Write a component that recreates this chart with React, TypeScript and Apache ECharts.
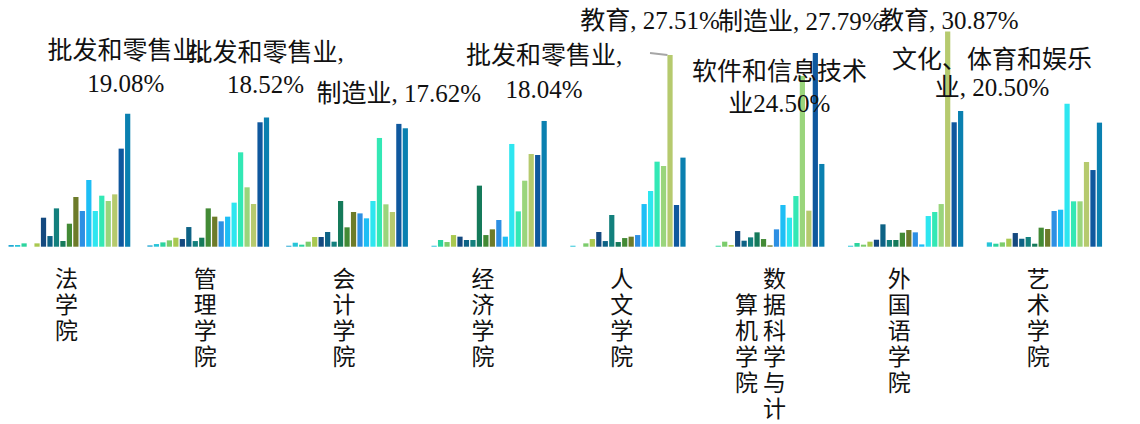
import React, { useEffect, useRef } from 'react';
import * as echarts from 'echarts';

const colleges = ['法学院', '管理学院', '会计学院', '经济学院', '人文学院', '数据科学与计算机学院', '外国语学院', '艺术学院'];

const industries = [
  '采矿业', '农、林、牧、渔业', '电力、热力、燃气及水生产和供应业', '住宿和餐饮业', '国际组织',
  '房地产业', '交通运输、仓储和邮政业', '卫生和社会工作', '金融业', '居民服务、修理和其他服务业',
  '科学研究和技术服务业', '建筑业', '租赁和商务服务业', '文化、体育和娱乐业', '公共管理、社会保障和社会组织',
  '软件和信息技术业', '教育', '制造业', '批发和零售业',
];

const colors = [
  '#23a7d3', '#27c4d8', '#2bd49e', '#7ccc6c', '#a9c850',
  '#14497f', '#0d6285', '#13807d', '#157a5a', '#438a35',
  '#6d7b2a', '#2d8fe3', '#1ebef5', '#2ee6f0', '#33e8b5',
  '#9ad57c', '#b6ca6e', '#0f589e', '#0a80b0',
];

// percentage per industry, in college order
const s01 = [0.24, 0.19, 0.14, 0, 0, 0, 0, 0];
const s02 = [0.24, 0.38, 0.57, 0.14, 0.14, 0, 0.14, 0.62];
const s03 = [0.48, 0.62, 0.29, 0.96, 0, 0.14, 0.53, 0.43];
const s04 = [0, 0.91, 0.72, 0.67, 0.48, 0.72, 0.29, 0.62];
const s05 = [0.48, 1.29, 1.39, 1.67, 1.1, 0.24, 0.72, 1.15];
const s06 = [4.16, 1.1, 1.39, 1.44, 2.11, 2.25, 1.0, 1.96];
const s07 = [1.53, 2.82, 2.11, 0.96, 0.81, 0.86, 3.21, 1.15];
const s08 = [5.5, 0.81, 0.72, 0.96, 4.55, 1.34, 0.96, 1.39];
const s09 = [0.81, 1.29, 6.56, 8.76, 0.67, 2.06, 0.96, 0.43];
const s10 = [3.3, 5.5, 2.78, 1.67, 1.24, 1.1, 2.01, 2.73];
const s11 = [7.13, 4.31, 4.98, 2.49, 1.44, 0.19, 2.39, 2.54];
const s12 = [5.12, 3.64, 4.78, 3.83, 1.67, 2.49, 2.06, 5.12];
const s13 = [9.57, 4.31, 4.07, 1.44, 6.12, 5.98, 0.33, 5.31];
const s14 = [5.12, 6.32, 6.56, 14.74, 7.99, 4.16, 4.4, 20.5];
const s15 = [7.32, 13.54, 15.6, 5.07, 12.2, 7.27, 4.98, 6.51];
const s16 = [6.56, 8.52, 6.08, 9.47, 11.58, 24.5, 6.12, 6.51];
const s17 = [7.51, 6.12, 4.98, 13.3, 27.51, 5.17, 30.87, 12.15];
const s18 = [14.07, 17.85, 17.62, 13.16, 5.98, 27.79, 17.85, 11.0];
const s19 = [19.08, 18.52, 16.99, 18.04, 12.78, 11.87, 19.47, 17.8];

const seriesValues = [s01, s02, s03, s04, s05, s06, s07, s08, s09, s10, s11, s12, s13, s14, s15, s16, s17, s18, s19];

// data labels: which bar, and its text
const labelTexts = [
  { series: 18, college: 0, text: '批发和零售业,\n19.08%' },
  { series: 18, college: 1, text: '批发和零售业,\n18.52%' },
  { series: 17, college: 2, text: '制造业, 17.62%' },
  { series: 18, college: 3, text: '批发和零售业,\n18.04%' },
  { series: 16, college: 4, text: '教育, 27.51%' },
  { series: 17, college: 5, text: '制造业, 27.79%' },
  { series: 15, college: 5, text: '软件和信息技术\n业24.50%' },
  { series: 16, college: 6, text: '教育, 30.87%' },
  { series: 13, college: 7, text: '文化、体育和娱乐\n业, 20.50%' },
];
// label placement (offset from bar top, line height, leader line)
const labelPlacement = [
  { dx: -2, dy: -9, lh: 33, line: false },
  { dx: -1, dy: -12, lh: 32, line: false },
  { dx: 0, dy: -9, lh: 32, line: false },
  { dx: 0, dy: -9, lh: 34, line: false },
  { dx: -20, dy: -13, lh: 32, line: true },
  { dx: -15, dy: -11, lh: 32, line: false },
  { dx: -23, dy: 49, lh: 32, line: false },
  { dx: 1, dy: 10, lh: 32, line: false },
  { dx: -75, dy: 3, lh: 28, line: false },
];

const verticalLabel = (v: string) => {
  if (v === '数据科学与计算机学院') {
    const right = '数据科学与计'.split('');
    const left = '　算机学院　'.split('');
    return right.map((r, i) => `${left[i]} ${r}`).join('\n');
  }
  return v.split('').join('\n');
};

export default function App() {
  const ref = useRef<HTMLDivElement>(null);
  useEffect(() => {
    const chart = echarts.init(ref.current!, undefined, { renderer: 'svg' });
    const series = seriesValues.map((vals, si) => ({
      name: industries[si],
      type: 'bar',
      barGap: '24%',
      barCategoryGap: '12.3%',
      itemStyle: { color: colors[si] },
      label: {
        show: false,
        fontSize: 25,
        fontFamily: "'Liberation Serif', 'Noto Sans CJK SC', serif",
        color: '#111',
      },
      data: vals.map((v, ci) => {
        const idx = labelTexts.findIndex((l) => l.series === si && l.college === ci);
        if (idx < 0) return v;
        const p = labelPlacement[idx];
        const item: any = {
          value: v,
          label: {
            show: true,
            position: 'top',
            formatter: labelTexts[idx].text,
            offset: [p.dx, p.dy],
            lineHeight: p.lh,
          },
        };
        if (p.line) {
          item.labelLine = { show: true, lineStyle: { color: '#a6a6a6', width: 2 } };
        }
        return item;
      }),
    }));
    chart.setOption({
      animation: false,
      backgroundColor: '#ffffff',
      grid: { left: 0, right: 29.4, top: 2.75, bottom: 177.3, containLabel: false, outerBoundsMode: 'none' },
      xAxis: {
        type: 'category',
        data: colleges,
        axisLine: { show: false },
        axisTick: { show: false },
        axisLabel: {
          interval: 0,
          margin: 17,
          fontSize: 23,
          lineHeight: 26,
          color: '#111',
          fontFamily: "'Noto Sans CJK SC', sans-serif",
          padding: [0, 6, 0, 0],
          formatter: verticalLabel,
        },
      },
      yAxis: { type: 'value', min: 0, max: 35, show: false, splitLine: { show: false } },
      series,
    });
    return () => chart.dispose();
  }, []);
  return <div ref={ref} style={{ position: 'fixed', left: 0, top: 0, width: 1140, height: 424 }} />;
}
